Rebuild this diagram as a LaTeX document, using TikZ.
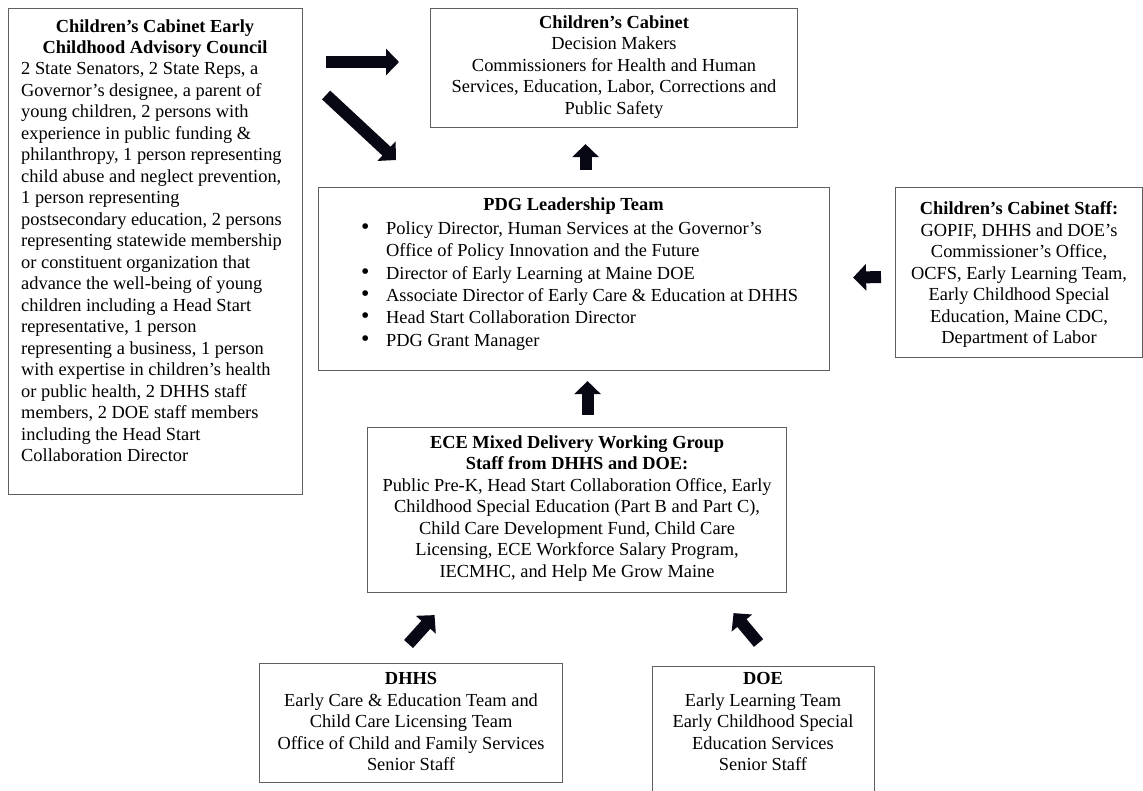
\documentclass[tikz,border=0pt]{standalone}
\usepackage{fontspec}
\setmainfont{Liberation Serif}
\usetikzlibrary{arrows.meta,calc}
\definecolor{boxgray}{RGB}{95,95,95}
\definecolor{arrowcol}{RGB}{8,8,20}
\begin{document}
\begin{tikzpicture}[x=1pt,y=-1pt,
  fnt/.style={font=\fontsize{18.4}{21.5}\selectfont},
  box/.style={draw=boxgray,line width=1.1pt,inner sep=0pt,anchor=north west},
  txt/.style={fnt,inner sep=0pt,align=center},
  blk/.style={line width=12pt,draw=arrowcol,-{Triangle[width=26pt,length=13pt]}}]
\useasboundingbox (0,0) rectangle (1143,790);
% boxes
\node[box,minimum width=294pt,minimum height=486pt] (adv) at (8,8) {};
\node[box,minimum width=367pt,minimum height=119pt] (cab) at (430,8) {};
\node[box,minimum width=511pt,minimum height=183pt] (pdg) at (318,187) {};
\node[box,minimum width=247pt,minimum height=170pt] (staff) at (895,187) {};
\node[box,minimum width=419pt,minimum height=165pt] (ece) at (367,427) {};
\node[box,minimum width=303pt,minimum height=119pt] (dhhs) at (259,663) {};
\node[box,minimum width=222pt,minimum height=130pt] (doe) at (652,666) {};
% texts
\node[txt,anchor=north] (advt) at (155,19.5) {\bfseries Children’s Cabinet Early\\\bfseries Childhood Advisory Council};
\node[txt,align=left,anchor=north west] (advb) at (21,62.5) {2 State Senators, 2 State Reps, a\\
Governor’s designee, a parent of\\
young children, 2 persons with\\
experience in public funding \&\\
philanthropy, 1 person representing\\
child abuse and neglect prevention,\\
1 person representing\\
postsecondary education, 2 persons\\
representing statewide membership\\
or constituent organization that\\
advance the well-being of young\\
children including a Head Start\\
representative, 1 person\\
representing a business, 1 person\\
with expertise in children’s health\\
or public health, 2 DHHS staff\\
members, 2 DOE staff members\\
including the Head Start\\
Collaboration Director};
\node[txt] (cabt) at ([yshift=1pt]cab.center) {\textbf{Children’s Cabinet}\\
Decision Makers\\
Commissioners for Health and Human\\
Services, Education, Labor, Corrections and\\
Public Safety};
\node[txt,anchor=north] (pdgt) at (573.5,197.5) {\bfseries PDG Leadership Team};
\node[txt,align=left,anchor=north west,font=\fontsize{18.4}{22.4}\selectfont] (pdgb) at (361,221.4) {%
\makebox[25pt][l]{\scalebox{1.3}{\textbullet}}Policy Director, Human Services at the Governor’s\\
\hspace*{25pt}Office of Policy Innovation and the Future\\
\makebox[25pt][l]{\scalebox{1.3}{\textbullet}}Director of Early Learning at Maine DOE\\
\makebox[25pt][l]{\scalebox{1.3}{\textbullet}}Associate Director of Early Care \& Education at DHHS\\
\makebox[25pt][l]{\scalebox{1.3}{\textbullet}}Head Start Collaboration Director\\
\makebox[25pt][l]{\scalebox{1.3}{\textbullet}}PDG Grant Manager};
\node[txt] (stafft) at ([yshift=-2pt]staff.center) {\textbf{Children’s Cabinet Staff:}\\
GOPIF, DHHS and DOE’s\\
Commissioner’s Office,\\
OCFS, Early Learning Team,\\
Early Childhood Special\\
Education, Maine CDC,\\
Department of Labor};
\node[txt] (ecet) at ([yshift=1.5pt]ece.center) {\textbf{ECE Mixed Delivery Working Group}\\
\textbf{Staff from DHHS and DOE:}\\
Public Pre-K, Head Start Collaboration Office, Early\\
Childhood Special Education (Part B and Part C),\\
Child Care Development Fund, Child Care\\
Licensing, ECE Workforce Salary Program,\\
IECMHC, and Help Me Grow Maine};
\node[txt] (dhhst) at ([yshift=1.5pt]dhhs.center) {\textbf{DHHS}\\
Early Care \& Education Team and\\
Child Care Licensing Team\\
Office of Child and Family Services\\
Senior Staff};
\node[txt,anchor=north] (doet) at (763,672.5) {\textbf{DOE}\\
Early Learning Team\\
Early Childhood Special\\
Education Services\\
Senior Staff};
% arrows
\draw[blk] ([shift={(23,54)}]adv.north east) -- ([shift={(-31,54)}]cab.north west);
\draw[blk] ([shift={(23,87)}]adv.north east) -- ([shift={(78,-27)}]pdg.north west);
\draw[blk] ([shift={(11.5,-17)}]pdg.north) -- ([shift={(-28.5,16)}]cab.south);
\draw[blk] ([shift={(10.5,-12)}]ece.north) -- ([shift={(13.5,10)}]pdg.south);
\draw[blk] ([shift={(-14,4.5)}]staff.west) -- ([shift={(23,-1.5)}]pdg.east);
\draw[blk] ([shift={(-2.5,-19)}]dhhs.north) -- ([shift={(-142.5,22)}]ece.south);
\draw[blk] ([shift={(-5,-23)}]doe.north) -- ([shift={(156.5,20)}]ece.south);
\end{tikzpicture}
\end{document}
